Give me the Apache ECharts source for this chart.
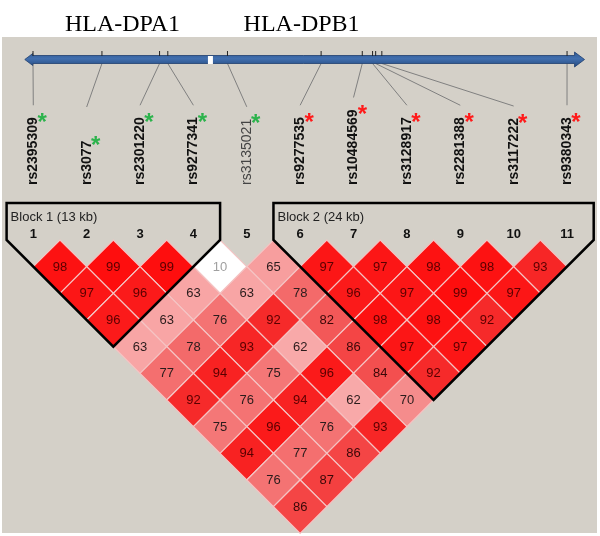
<!DOCTYPE html>
<html>
<head>
<meta charset="utf-8">
<script src="https://cdn.jsdelivr.net/npm/echarts@6/dist/echarts.min.js"></script>
<style>
  html, body { margin: 0; padding: 0; background: #ffffff; }
  #chart { width: 600px; height: 536px; }
</style>
</head>
<body>
<div id="chart"></div>
<script>
// ---------------- data ----------------
const snpNames = ['rs2395309','rs3077','rs2301220','rs9277341','rs3135021','rs9277535','rs10484569','rs3128917','rs2281388','rs3117222','rs9380343'];
const snpNumbers = ['1','2','3','4','5','6','7','8','9','10','11'];
// physical position along the region (kb, relative to first SNP)
const snpPosKb = [0, 6.7, 12.3, 13.1, 18.9, 28.0, 32.0, 33.0, 33.3, 33.9, 51.9];
// asterisk marker group for each SNP
const snpMark = ['green','green','green','green','green','red','red','red','red','red','red'];
// LD (D' x100) values by SNP distance (row 1 = adjacent pairs)
const ldDist1  = [98, 99, 99, 10, 65, 97, 97, 98, 98, 93];
const ldDist2  = [97, 96, 63, 63, 78, 96, 97, 99, 97];
const ldDist3  = [96, 63, 76, 92, 82, 98, 98, 92];
const ldDist4  = [63, 78, 93, 62, 86, 97, 97];
const ldDist5  = [77, 94, 75, 96, 84, 92];
const ldDist6  = [92, 76, 94, 62, 70];
const ldDist7  = [75, 96, 76, 93];
const ldDist8  = [94, 77, 86];
const ldDist9  = [76, 87];
const ldDist10 = [86];
const ldRows = [ldDist1, ldDist2, ldDist3, ldDist4, ldDist5, ldDist6, ldDist7, ldDist8, ldDist9, ldDist10];
// haplotype blocks
const blockFirst = [1, 6];
const blockLast = [4, 11];
const blockLabels = ['Block 1 (13 kb)', 'Block 2 (24 kb)'];
// gene titles (centre position in kb)
const geneNames = ['HLA-DPA1', 'HLA-DPB1'];
const geneCenterKb = [8.7, 26.1];

// ---------------- build ----------------
const diamonds = [];
ldRows.forEach((row, r) => {
  const d = r + 1;
  row.forEach((v, k) => {
    const i = k + 1, j = k + 1 + d;
    diamonds.push([(i + j) / 2, d, v]);
  });
});

const FONT = "'Liberation Sans', Arial, sans-serif";
function cellTextColor(v) {
  if (v < 50) return '#a0a0a0';
  if (v >= 90) return '#5a0000';
  if (v >= 80) return '#3a0808';
  return '#2a1c1c';
}

const chart = echarts.init(document.getElementById('chart'), null, { renderer: 'canvas' });

const option = {
  animation: false,
  backgroundColor: '#ffffff',
  grid: { left: 6.6, right: 6.3, top: 240, bottom: 2.7, containLabel: false },
  xAxis: [
    { type: 'value', min: 0.5, max: 11.5, show: false },
    { type: 'value', min: -2.566, max: 54.49, show: false }
  ],
  yAxis: [{ type: 'value', min: 0, max: 11, inverse: true, show: false }],
  visualMap: {
    show: false, type: 'continuous', dimension: 2, min: 0, max: 100, seriesIndex: 0,
    inRange: { color: ['#ffffff','#ffffff','#fff0f0','#fde2e2','#fcd2d2','#fbc2c2','#f9b0b0','#f58c8c','#f36262','#f43232','#ff0a0a'] }
  },
  graphic: [
    { type: 'rect', z: -10, shape: { x: 2, y: 37, width: 595, height: 496 }, style: { fill: '#d4d0c8' } }
  ],
  series: [{
    type: 'custom',
    xAxisIndex: 0, yAxisIndex: 0,
    clip: false,
    z: 2,
    data: diamonds,
    renderItem: function (params, api) {
      const xc = api.value(0), d = api.value(1), v = api.value(2);
      const pts = [[xc - 0.5, d], [xc, d - 1], [xc + 0.5, d], [xc, d + 1]].map(p => api.coord(p));
      const c = api.coord([xc, d]);
      return {
        type: 'group',
        children: [
          { type: 'polygon', shape: { points: pts }, style: { fill: api.visual('color'), stroke: '#f5c4c4', lineWidth: 1.2 } },
          { type: 'text', x: c[0], y: c[1] + 0.5, style: { text: String(v), fill: cellTextColor(v), font: '13px ' + FONT, align: 'center', verticalAlign: 'middle' } }
        ]
      };
    }
  }]
};
chart.setOption(option);

// ---------- decorations positioned through the axes ----------
const px = i => chart.convertToPixel({ xAxisIndex: 0 }, i);
const pkb = kb => chart.convertToPixel({ xAxisIndex: 1 }, kb);
const py = d => chart.convertToPixel({ yAxisIndex: 0 }, d);

const measureCtx = document.createElement('canvas').getContext('2d');
function textWidth(t, font) { measureCtx.font = font; return measureCtx.measureText(t).width; }

const g = option.graphic.slice();

// gene titles
geneNames.forEach((name, k) => {
  g.push({ type: 'text', z: 5, x: pkb(geneCenterKb[k]), y: 25, style: { text: name, font: "24px 'Liberation Serif', 'Times New Roman', serif", fill: '#000', align: 'center', verticalAlign: 'middle' } });
});

// chromosome arrow
const arrowL = pkb(-0.8), arrowR = pkb(53.6);
const aTop = 55.5, aBot = 63.5, aMid = 59.5;
g.push({
  type: 'polygon', z: 3,
  shape: { points: [[arrowL, aMid], [arrowL + 8, aMid - 6], [arrowL + 8, aTop], [arrowR - 10, aTop], [arrowR - 10, aMid - 7.5], [arrowR, aMid], [arrowR - 10, aMid + 7.5], [arrowR - 10, aBot], [arrowL + 8, aBot], [arrowL + 8, aMid + 6]] },
  style: {
    fill: { type: 'linear', x: 0, y: 0, x2: 0, y2: 1, colorStops: [{ offset: 0, color: '#2d5894' }, { offset: 0.45, color: '#426fae' }, { offset: 1, color: '#22487e' }] },
    stroke: '#1f3f6e', lineWidth: 0.8
  }
});
// gap between genes
const gapX = pkb(17.0);
g.push({ type: 'rect', z: 4, shape: { x: gapX, y: aTop + 0.5, width: 5, height: aBot - aTop }, style: { fill: '#ffffff' } });

// SNP ticks, connectors, labels, asterisks, numbers
snpNames.forEach((name, k) => {
  const phys = pkb(snpPosKb[k]);
  const lx = px(k + 1);
  const isBold = k !== 4;
  const font = (isBold ? 'bold ' : '') + '14px ' + FONT;
  const w = textWidth(name, font);
  const bottomY = 185;
  const topY = bottomY - w;
  const endY = Math.min(107, topY - 12);
  g.push({ type: 'line', z: 4, shape: { x1: phys, y1: 51, x2: phys, y2: 56 }, style: { stroke: '#222', lineWidth: 1 } });
  g.push({ type: 'line', z: 2, shape: { x1: phys, y1: aBot, x2: lx, y2: endY }, style: { stroke: '#808080', lineWidth: 1 } });
  g.push({ type: 'text', z: 5, x: lx, y: bottomY, rotation: Math.PI / 2, style: { text: name, font: font, fill: isBold ? '#111' : '#444', align: 'left', verticalAlign: 'middle' } });
  g.push({ type: 'text', z: 5, x: lx + 9, y: topY + 6, style: { text: '*', font: 'bold 24px ' + FONT, fill: snpMark[k] === 'green' ? '#2cb34c' : '#ff1a1a', align: 'center', verticalAlign: 'middle' } });
  g.push({ type: 'text', z: 5, x: lx, y: 234, style: { text: snpNumbers[k], font: 'bold 13px ' + FONT, fill: '#111', align: 'center', verticalAlign: 'middle' } });
});

// haplotype blocks
blockFirst.forEach((f, k) => {
  const l = blockLast[k];
  const xl = px(f - 0.5), xr = px(l + 0.5);
  const y0 = py(0);
  const bottom = [px((f + l) / 2), py(l - f + 1)];
  g.push({
    type: 'polygon', z: 10,
    shape: { points: [[xl, 203], [xr, 203], [xr, y0], bottom, [xl, y0]] },
    style: { fill: null, stroke: '#000', lineWidth: 2.5 }
  });
  g.push({ type: 'text', z: 11, x: xl + 4, y: 217, style: { text: blockLabels[k], font: '13px ' + FONT, fill: '#222', align: 'left', verticalAlign: 'middle' } });
});

chart.setOption({ graphic: g });
</script>
</body>
</html>
